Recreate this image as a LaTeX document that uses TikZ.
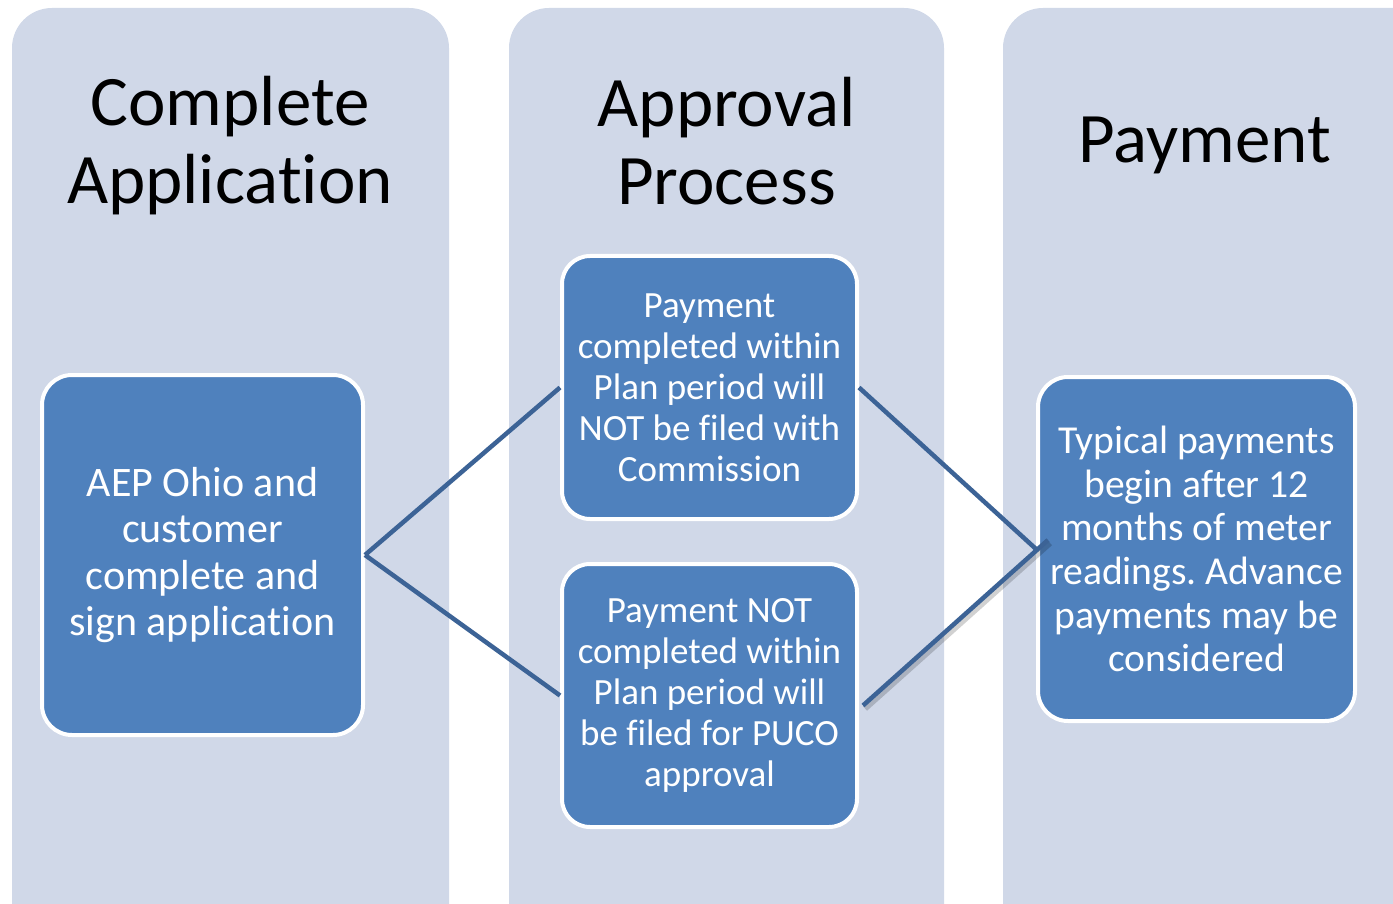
\documentclass[tikz,border=0pt]{standalone}
\usepackage{fontspec}
\setmainfont[Ligatures=NoCommon]{Carlito}
\usetikzlibrary{calc}
\definecolor{colbg}{HTML}{D0D8E8}
\definecolor{boxfill}{HTML}{4F81BD}
\definecolor{linkcol}{HTML}{3C6396}
\frenchspacing
\begin{document}
\begin{tikzpicture}[x=1pt,y=-1pt,
  colpanel/.style={fill=colbg, rounded corners=40pt},
  stepbox/.style={draw=white, line width=4pt, fill=boxfill, rounded corners=30pt,
    text=white, align=center, inner sep=0pt},
  titletext/.style={align=center, inner sep=0pt, text=black, font=\fontsize{71}{78}\selectfont},
  link/.style={draw=linkcol, line width=4.5pt}]
\useasboundingbox (0,0) rectangle (1393,904);
\clip (0,0) rectangle (1393,904);
\fill[colpanel] (12,8) rectangle (449,960);
\fill[colpanel] (509,8) rectangle (944,960);
\fill[colpanel] (1003,8) rectangle (1440,960);

\node[titletext] (t1) at (230,146) {Complete\\Application};
\node[titletext] (t2) at (726.5,141) {Approval\\Process};
\node[titletext, anchor=base] (t3) at (1205,163) {Payment};

\node[stepbox, minimum width=321pt, minimum height=360pt, font=\fontsize{42}{46.5}\selectfont] (apply) at (202.5,555)
  {AEP Ohio and\\customer\\complete and\\sign application};
\node[stepbox, rounded corners=28pt, minimum width=295pt, minimum height=263pt, font=\fontsize{37}{41}\selectfont] (notfiled) at (709.5,387.5)
  {Payment\\completed within\\Plan period will\\NOT be filed with\\Commission};
\node[stepbox, rounded corners=28pt, minimum width=295pt, minimum height=263pt, font=\fontsize{37}{41}\selectfont] (filed) at (709.5,695.5)
  {Payment NOT\\completed within\\Plan period will\\be filed for PUCO\\approval};
\node[stepbox, minimum width=317pt, minimum height=344pt, font=\fontsize{39.6}{43.6}\selectfont] (pay) at (1196.5,549)
  {Typical payments\\begin after 12\\months of meter\\readings. Advance\\payments may be\\considered};

\coordinate (f1) at ($(filed.east)+(4,10)$);
\coordinate (p1) at ($(pay.west)+(12,-9)$);
\draw[link] (apply.east) -- (notfiled.west);
\draw[link] (apply.east) -- (filed.west);
\draw[link] (notfiled.east) -- (pay.west);
\draw[line width=6pt, black, opacity=0.18] ($(f1)+(2,3)$) -- ($(p1)+(2,3)$);
\draw[link] (f1) -- (p1);
\end{tikzpicture}
\end{document}
